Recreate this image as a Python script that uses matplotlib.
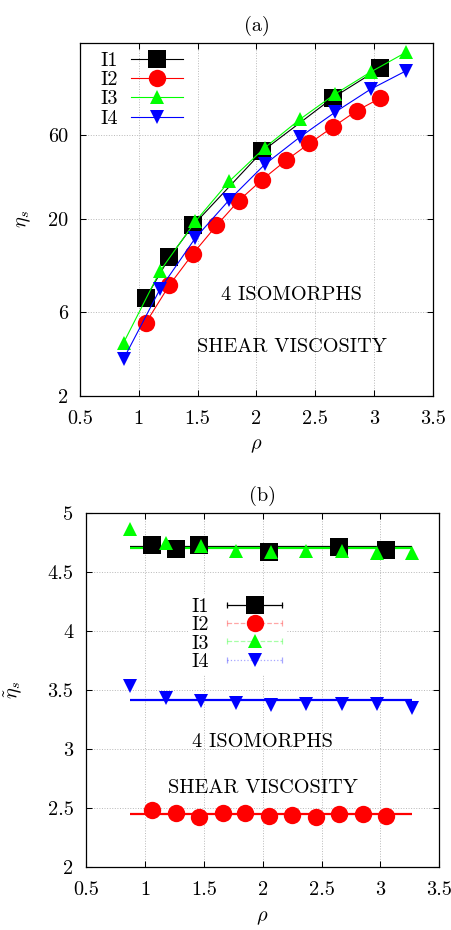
import numpy as np
import matplotlib
matplotlib.use("Agg")
import matplotlib.pyplot as plt
from matplotlib.lines import Line2D
from matplotlib.legend_handler import HandlerLine2D, HandlerTuple

FS = 14.6
plt.rcParams['font.family'] = 'serif'
plt.rcParams['font.serif'] = ['cmr10', 'DejaVu Serif']
plt.rcParams['mathtext.fontset'] = 'cm'
plt.rcParams['axes.formatter.use_mathtext'] = True
plt.rcParams['font.size'] = FS

# densities along each isomorph
rho_I1 = [1.06, 1.26, 1.46, 2.05, 2.65, 3.05]
rho_I2 = [1.06, 1.26, 1.46, 1.66, 1.85, 2.05, 2.25, 2.45, 2.65, 2.85, 3.05]
rho_I3 = [0.87, 1.18, 1.48, 1.77, 2.07, 2.37, 2.67, 2.97, 3.27]
rho_I4 = [0.87, 1.18, 1.48, 1.77, 2.07, 2.37, 2.67, 2.97, 3.27]

# (a) shear viscosity
eta_I1 = [7.2, 12.2, 18.5, 48.7, 98.0, 144.0]
eta_I2 = [5.2, 8.5, 12.8, 18.5, 25.6, 33.7, 43.2, 54.0, 66.9, 82.5, 97.3]
eta_I3 = [4.0, 10.2, 19.5, 33.0, 51.0, 74.0, 103.0, 137.0, 177.0]
eta_I4 = [3.24, 8.06, 15.7, 25.9, 41.0, 58.7, 81.3, 109.5, 139.0]

# (b) reduced shear viscosity
red_I1 = [4.73, 4.70, 4.73, 4.67, 4.71, 4.69]
red_I2 = [2.48, 2.46, 2.42, 2.46, 2.46, 2.43, 2.44, 2.42, 2.45, 2.45, 2.43]
red_I3 = [4.87, 4.75, 4.72, 4.68, 4.67, 4.68, 4.68, 4.66, 4.66]
red_I4 = [3.53, 3.43, 3.41, 3.39, 3.37, 3.38, 3.38, 3.38, 3.35]

# constant fits in (b)
fit_I1 = 4.712
fit_I2 = 2.445
fit_I3 = 4.708
fit_I4 = 3.415

names = ['I1', 'I2', 'I3', 'I4']
colors = ['black', '#ff0000', '#00ff00', '#0000ff']
markers = ['s', 'o', '^', 'v']
msizes = [12.5, 12.5, 10.5, 10.5]

xticks = [0.5, 1, 1.5, 2, 2.5, 3, 3.5]
xticklabels = ['0.5', '1', '1.5', '2', '2.5', '3', '3.5']


def style_axes(ax, ypad):
    ax.tick_params(direction='in', top=True, right=True, length=4, width=0.75)
    ax.tick_params(axis='x', pad=10)
    ax.tick_params(axis='y', pad=ypad)
    ax.tick_params(which='minor', length=0)
    for s in ax.spines.values():
        s.set_linewidth(0.9)
    ax.set_xlim(0.5, 3.5)
    ax.set_xticks(xticks, labels=xticklabels)
    ax.grid(True, color='#b8b8b8', linestyle=':', linewidth=0.7)
    ax.set_axisbelow(True)


fig = plt.figure(figsize=(4.52, 9.30), dpi=100)

# ---------- (a) ----------
ax1 = fig.add_axes([80 / 452, 1 - 396 / 930, 353 / 452, 353 / 930])
style_axes(ax1, 8.5)
ax1.set_yscale('log')
ax1.set_ylim(2, 200)
ax1.set_yticks([2, 6, 20, 60], labels=['2', '6', '20', '60'])
ax1.yaxis.set_minor_locator(matplotlib.ticker.NullLocator())

tops = [(rho_I1, eta_I1), (rho_I2, eta_I2), (rho_I3, eta_I3), (rho_I4, eta_I4)]
for (x, y), n, c, m, ms in zip(tops, names, colors, markers, msizes):
    ax1.plot(x, y, color=c, lw=0.8, marker=m, ms=ms, mec=c, mew=0, label=n)

ax1.legend(loc='upper left', bbox_to_anchor=(0.057, 0.975), frameon=False,
           markerfirst=False, borderpad=0, borderaxespad=0, handlelength=2.61,
           handletextpad=0.63, labelspacing=0.05, fontsize=FS)

ax1.text(2.3, 7.5, '4 ISOMORPHS', ha='center', va='center')
ax1.text(2.3, 3.8, 'SHEAR VISCOSITY', ha='center', va='center')
ax1.set_title('(a)', pad=9, fontsize=FS)
ax1.set_xlabel(r'$\rho$')
ax1.xaxis.set_label_coords(0.5, -0.115)
ax1.set_ylabel(r'$\eta_s$')
ax1.yaxis.set_label_coords(-0.133, 0.5)

# ---------- (b) ----------
ax2 = fig.add_axes([86 / 452, 1 - 866.7 / 930, 353.3 / 452, 353.4 / 930])
style_axes(ax2, 9)
ax2.set_ylim(2, 5)
ax2.set_yticks([2, 2.5, 3, 3.5, 4, 4.5, 5],
               labels=['2', '2.5', '3', '3.5', '4', '4.5', '5'])

x_lo = min(rho_I3)
x_hi = max(rho_I3)
for lev, c in zip([fit_I1, fit_I2, fit_I3, fit_I4], colors):
    ax2.hlines(lev, x_lo, x_hi, color=c, lw=1.6)

bots = [(rho_I1, red_I1), (rho_I2, red_I2), (rho_I3, red_I3), (rho_I4, red_I4)]
for (x, y), c, m, ms in zip(bots, colors, markers, msizes):
    ax2.plot(x, y, ls='none', color=c, marker=m, ms=ms, mew=0)

# legend handles: error-bar style sample + marker
bar_styles = [('-', 'black', 1.0), ('--', '#ff0000', 0.35),
              ('--', '#00ff00', 0.35), (':', '#0000ff', 0.35)]
handles = []
hmap = {}
for (ls, c, a), m, ms in zip(bar_styles, markers, msizes):
    bar = Line2D([], [], ls=ls, color=c, alpha=a, lw=0.9, marker='|', ms=5, mew=0.9)
    mk = Line2D([], [], ls='none', color=c, marker=m, ms=ms, mew=0)
    hmap[bar] = HandlerLine2D(numpoints=2, marker_pad=0)
    handles.append((bar, mk))
hmap[tuple] = HandlerTuple(ndivide=1)
leg = ax2.legend(handles, names, handler_map=hmap, loc='upper left',
                 bbox_to_anchor=(0.288, 0.772), frameon=True, fancybox=False,
                 edgecolor='none', facecolor='white', framealpha=1,
                 markerfirst=False, borderpad=0.2, borderaxespad=0,
                 handlelength=2.68, handletextpad=0.89, labelspacing=0.0,
                 fontsize=FS)

ax2.text(2.0, 3.06, '4 ISOMORPHS', ha='center', va='center')
ax2.text(2.0, 2.665, 'SHEAR VISCOSITY', ha='center', va='center')
ax2.set_title('(b)', pad=9, fontsize=FS)
ax2.set_xlabel(r'$\rho$')
ax2.xaxis.set_label_coords(0.5, -0.12)
ax2.set_ylabel(r'$\tilde{\eta}_s$')
ax2.yaxis.set_label_coords(-0.173, 0.5)

fig.savefig('out.png', dpi=100)
